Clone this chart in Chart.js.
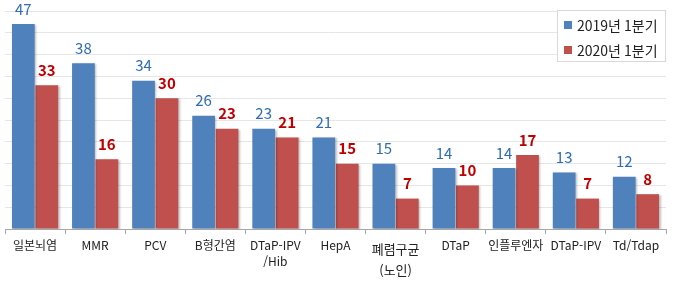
<!DOCTYPE html>
<html lang="ko">
<head>
<meta charset="UTF-8">
<title>백신 접종 비교</title>
<script src="https://cdn.jsdelivr.net/npm/chart.js"></script>
<style>
  html, body { margin: 0; padding: 0; background: #fff; }
  #wrap { width: 676px; height: 281px; }
</style>
</head>
<body>
<div id="wrap"><canvas id="myChart"></canvas></div>
<script>
    // data
    var categories = ['일본뇌염', 'MMR', 'PCV', 'B형간염', ['DTaP-IPV', '/Hib'], 'HepA', ['폐렴구균', '(노인)'], 'DTaP', '인플루엔자', 'DTaP-IPV', 'Td/Tdap'];
    var seriesNames = ['2019년 1분기', '2020년 1분기'];
    var q1_2019 = [47, 38, 34, 26, 23, 21, 15, 14, 14, 13, 12];
    var q1_2020 = [33, 16, 30, 23, 21, 15, 7, 10, 17, 7, 8];

    var fontFamily = "'Noto Sans CJK KR', 'Noto Sans', sans-serif";

    // value labels above bars
    var valueLabels = {
        id: 'valueLabels',
        afterDatasetsDraw: function (chart) {
            var ctx = chart.ctx;
            ctx.save();
            ctx.textAlign = 'center';
            ctx.textBaseline = 'middle';
            chart.data.datasets.forEach(function (ds, i) {
                var meta = chart.getDatasetMeta(i);
                ctx.fillStyle = ds.labelColor;
                ctx.font = ds.labelFont;
                meta.data.forEach(function (bar, j) {
                    ctx.fillText(ds.data[j], bar.x, bar.y - 15);
                });
            });
            ctx.restore();
        }
    };

    // soft shadow under bars
    var barShadow = {
        id: 'barShadow',
        beforeDatasetsDraw: function (chart) {
            var ctx = chart.ctx;
            ctx.save();
            ctx.shadowColor = 'rgba(0,0,0,0.25)';
            ctx.shadowBlur = 2;
            ctx.shadowOffsetX = 1.5;
            ctx.shadowOffsetY = 1;
        },
        afterDatasetsDraw: function (chart) {
            chart.ctx.restore();
        }
    };

    // boxed legend inside the plot, top right
    var boxLegend = {
        id: 'boxLegend',
        afterDraw: function (chart) {
            var ctx = chart.ctx;
            var x = 557, y = 10, w = 108, h = 51;
            ctx.save();
            ctx.fillStyle = '#fff';
            ctx.fillRect(x, y, w, h);
            ctx.strokeStyle = '#d9d9d9';
            ctx.lineWidth = 1;
            ctx.strokeRect(x + 0.5, y + 0.5, w, h);
            ctx.font = '14px ' + fontFamily;
            ctx.textBaseline = 'middle';
            chart.data.datasets.forEach(function (ds, i) {
                var cy = y + 15 + i * 25;
                ctx.fillStyle = ds.backgroundColor;
                ctx.fillRect(x + 7, cy - 4, 8, 8);
                ctx.fillStyle = '#222';
                ctx.fillText(ds.label, x + 20, cy + 1);
            });
            ctx.restore();
        }
    };

    var ctx = document.getElementById('myChart').getContext('2d');
    var myChart = new Chart(ctx, {
        type: 'bar',
        data: {
            labels: categories,
            datasets: [{
                label: seriesNames[0],
                data: q1_2019,
                backgroundColor: '#4f81bd',
                labelColor: '#2e6db4',
                labelFont: '15px ' + fontFamily,
                categoryPercentage: 0.78,
                barPercentage: 0.97
            },
            {
                label: seriesNames[1],
                data: q1_2020,
                backgroundColor: '#c0504d',
                labelColor: '#c00000',
                labelFont: 'bold 15px ' + fontFamily,
                categoryPercentage: 0.78,
                barPercentage: 0.97
            }]
        },
        options: {
            responsive: true,
            maintainAspectRatio: false,
            animation: false,
            layout: { padding: { left: 5, right: 10, top: 11, bottom: -4 } },
            plugins: {
                legend: { display: false },
                tooltip: { enabled: false }
            },
            scales: {
                x: {
                    grid: { offset: true, drawOnChartArea: false, color: '#a6a6a6', tickLength: 5 },
                    border: { color: '#a6a6a6' },
                    ticks: {
                        color: '#222',
                        padding: 4,
                        maxRotation: 0,
                        autoSkip: false,
                        font: function (c) {
                            // the two-line Korean label sits with wider line gap
                            if (c.index === 6) return { family: fontFamily, size: 13, lineHeight: 1.65 };
                            return { family: fontFamily, size: 12, lineHeight: 1.3 };
                        }
                    }
                },
                y: {
                    min: 0,
                    max: 50,
                    grid: { color: '#e6e6e6', drawTicks: false },
                    border: { display: false },
                    ticks: { display: false, stepSize: 5 }
                }
            }
        },
        plugins: [barShadow, valueLabels, boxLegend]
    });
</script>
</body>
</html>
